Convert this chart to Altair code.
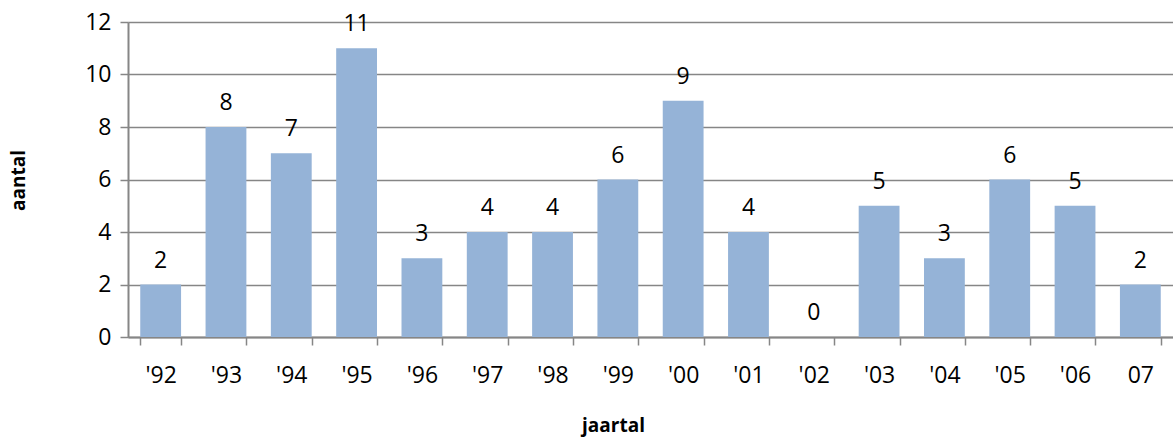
import altair as alt
import pandas as pd

years = ["'92", "'93", "'94", "'95", "'96", "'97", "'98", "'99", "'00", "'01",
         "'02", "'03", "'04", "'05", "'06", "07"]
counts = [2, 8, 7, 11, 3, 4, 4, 6, 9, 4, 0, 5, 3, 6, 5, 2]

df = pd.DataFrame({"jaar": years, "aantal": counts})

FONT = "Open Sans"
GRID = "#868686"
SIZE = 23

x = alt.X(
    "jaar:N",
    sort=years,
    scale=alt.Scale(paddingInner=0.375, paddingOuter=0.1875),
    axis=alt.Axis(
        title="jaartal",
        labelAngle=0,
        tickBand="extent",
        tickSize=8,
        tickColor=GRID,
        tickWidth=1.5,
        domainColor=GRID,
        domainWidth=2,
        labelFont=FONT,
        labelFontSize=SIZE,
        labelColor="#000000",
        labelPadding=19,
        titleFont=FONT,
        titleFontSize=19,
        titleFontWeight="bold",
        titleColor="#000000",
        titleX=485,
        titleY=88,
        titleBaseline="middle",
        titleAlign="center",
    ),
)

y = alt.Y(
    "aantal:Q",
    scale=alt.Scale(domain=[0, 12], nice=False),
    axis=alt.Axis(
        title="aantal",
        values=[0, 2, 4, 6, 8, 10, 12],
        grid=True,
        gridColor=GRID,
        gridWidth=1.5,
        tickSize=8,
        tickColor=GRID,
        tickWidth=1.5,
        domainColor=GRID,
        domainWidth=2,
        labelFont=FONT,
        labelFontSize=SIZE,
        labelColor="#000000",
        labelPadding=9,
        titleFont=FONT,
        titleFontSize=19,
        titleFontWeight="bold",
        titleColor="#000000",
        titleAngle=-90,
        titleX=-110,
        titleY=158,
        titleAlign="center",
        titleBaseline="middle",
    ),
)

bars = alt.Chart(df).mark_bar(color="#95B3D7").encode(x=x, y=y)

labels = alt.Chart(df).mark_text(
    font=FONT, fontSize=SIZE, color="#000000", baseline="bottom", dy=-12
).encode(
    x=alt.X("jaar:N", sort=years),
    y=alt.Y("aantal:Q"),
    text="aantal:Q",
)

chart = (
    alt.layer(bars, labels)
    .properties(
        width=1045,
        height=315,
        padding={"left": 128, "top": 22, "right": 0, "bottom": 100},
        autosize=alt.AutoSizeParams(type="none"),
    )
    .configure_view(stroke=None)
    .configure(background="#ffffff")
)

chart.save("out.html", embed_options={"renderer": "svg", "actions": False})
